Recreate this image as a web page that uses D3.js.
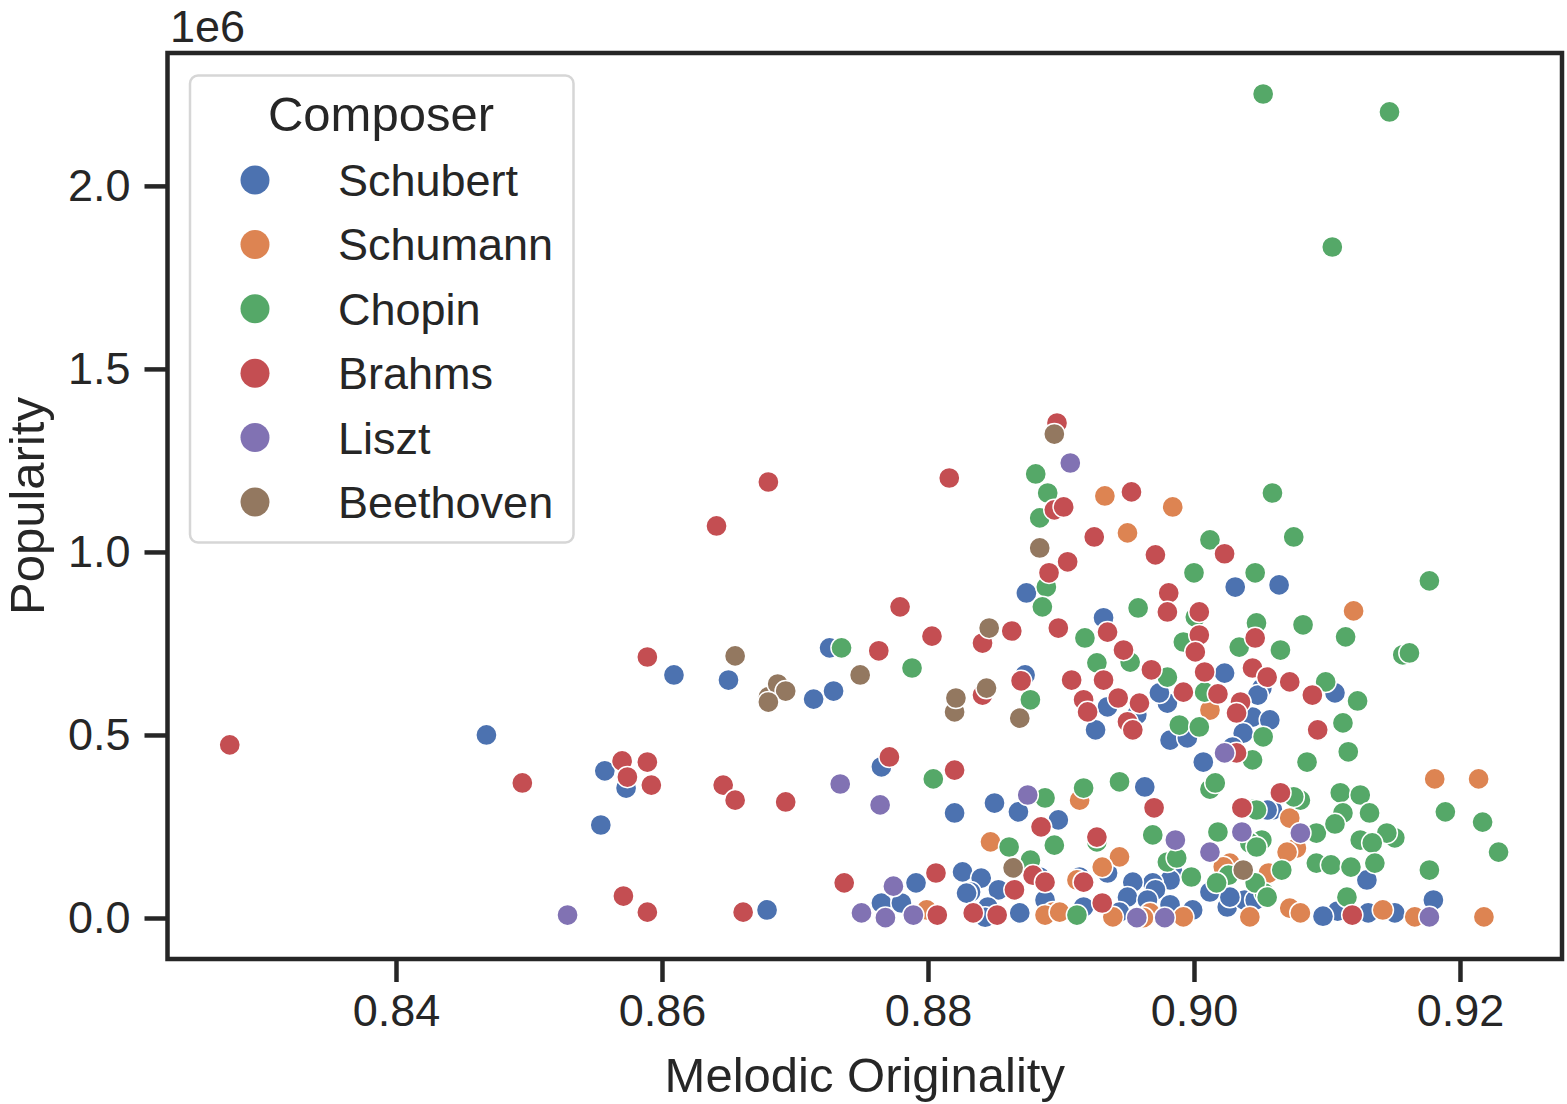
<!DOCTYPE html>
<html>
<head>
<meta charset="utf-8">
<script src="https://cdn.jsdelivr.net/npm/d3@7"></script>
<style>
  html, body { margin: 0; padding: 0; background: #fff; }
  svg { display: block; }
  text { font-family: "Liberation Sans", Arial, "DejaVu Sans", sans-serif; fill: #262626; }
</style>
</head>
<body>
<svg id="chart" width="1567" height="1104"></svg>
<script>
// ---------------- data (x = melodic originality, y = popularity in millions) ----------------
const composers = ["Schubert", "Schumann", "Chopin", "Brahms", "Liszt", "Beethoven"];
const colors = ["#4C72B0", "#DD8452", "#55A868", "#C44E52", "#8172B3", "#937860"];
const xTicks = [0.84, 0.86, 0.88, 0.90, 0.92];
const yTicks = [0.0, 0.5, 1.0, 1.5, 2.0];

const schubert = [[0.8468,0.500],[0.8557,0.402],[0.8573,0.355],[0.8554,0.254],[0.8609,0.664],[0.8650,0.650],[0.8679,0.022],[0.8714,0.598],[0.8726,0.738],[0.8729,0.620],[0.8765,0.413],[0.8765,0.041],[0.8780,0.041],[0.8791,0.096],[0.8820,0.287],[0.8873,0.664],[0.8850,0.314],[0.8868,0.290],[0.8898,0.268],[0.8826,0.126],[0.8840,0.109],[0.8832,0.071],[0.8829,0.068],[0.8853,0.077],[0.8884,0.112],[0.8845,0.030],[0.8869,0.014],[0.8888,0.049],[0.8843,0.002],[0.8914,0.112],
[0.8963,0.358],[0.9059,0.295],[0.8984,0.126],[0.9012,0.071],[0.8982,0.104],[0.8969,0.096],[0.8971,0.077],[0.8954,0.098],[0.8935,0.123],[0.8950,0.057],[0.8965,0.049],[0.8982,0.036],[0.8999,0.022],[0.9025,0.030],[0.9038,0.049],[0.8917,0.030],[0.8944,0.016],[0.9027,0.057],
[0.8874,0.888],[0.9031,0.904],[0.9064,0.910],[0.8932,0.820],[0.9023,0.669],[0.8935,0.577],[0.8957,0.555],[0.8926,0.514],[0.8980,0.587],[0.8974,0.615],[0.9044,0.549],[0.9057,0.541],[0.9051,0.628],[0.8982,0.486],[0.8995,0.492],[0.9037,0.505],[0.9029,0.467],[0.9007,0.426],[0.9106,0.615],[0.9048,0.609],
[0.9180,0.049],[0.9151,0.014],[0.9131,0.014],[0.9108,0.019],[0.9097,0.005],[0.9130,0.104],[0.9055,0.295],[0.9046,0.049]];

const schumann = [[0.8799,0.022],[0.8847,0.208],[0.8894,0.016],[0.8888,0.008],[0.8933,1.153],[0.8984,1.123],[0.8950,1.052],[0.9120,0.839],[0.9012,0.568],[0.8914,0.322],[0.8944,0.167],[0.8931,0.139],[0.9072,0.273],[0.9077,0.191],[0.9070,0.180],[0.9027,0.150],[0.9022,0.140],[0.8912,0.104],[0.9072,0.027],[0.8899,0.016],[0.8967,0.014],[0.8962,0.001],[0.8939,0.003],[0.8992,0.003],[0.9042,0.003],[0.9181,0.380],[0.9214,0.380],[0.9218,0.003],[0.9166,0.003],[0.9142,0.022],[0.9080,0.014],[0.9056,0.123]];

const chopin = [[0.9052,2.251],[0.9147,2.202],[0.9104,1.833],[0.8881,1.213],[0.8890,1.161],[0.8884,1.093],[0.9012,1.033],[0.9059,1.161],[0.9075,1.041],[0.9000,0.943],[0.9046,0.943],[0.9177,0.921],[0.8889,0.904],[0.8886,0.850],[0.8958,0.847],[0.8918,0.765],[0.9001,0.822],[0.8992,0.754],[0.9047,0.806],[0.9082,0.801],[0.9034,0.740],[0.9065,0.732],[0.9114,0.768],[0.9157,0.719],[0.9162,0.724],[0.8927,0.697],[0.8952,0.699],[0.8980,0.658],[0.9008,0.617],[0.8989,0.527],[0.9004,0.522],[0.9052,0.495],[0.9044,0.432],[0.9085,0.426],[0.9099,0.645],[0.9123,0.593],[0.9112,0.533],[0.9116,0.454],
[0.8788,0.683],[0.8804,0.380],[0.8877,0.596],[0.8888,0.328],[0.8895,0.199],[0.8861,0.194],[0.8877,0.158],[0.8735,0.738],[0.8912,0.008],
[0.8917,0.355],[0.8944,0.372],[0.9012,0.352],[0.9016,0.369],[0.8927,0.208],[0.8969,0.227],[0.9018,0.235],[0.9046,0.298],[0.9051,0.213],[0.9042,0.205],[0.9047,0.194],[0.9066,0.131],[0.8980,0.153],[0.8987,0.164],[0.8998,0.112],[0.9026,0.117],[0.9017,0.096],[0.9053,0.068],[0.9046,0.096],
[0.9189,0.290],[0.9217,0.262],[0.9229,0.180],[0.9177,0.131],[0.9115,0.057],[0.9110,0.342],[0.9125,0.336],[0.9080,0.322],[0.9075,0.331],[0.9047,0.295],[0.9112,0.287],[0.9132,0.287],[0.9092,0.232],[0.9106,0.257],[0.9151,0.219],[0.9145,0.232],[0.9125,0.213],[0.9134,0.205],[0.9092,0.150],[0.9103,0.145],[0.9118,0.139],[0.9136,0.150],[0.9055,0.057]];

const brahms = [[0.8275,0.473],[0.8495,0.369],[0.8570,0.429],[0.8574,0.385],[0.8589,0.426],[0.8592,0.363],[0.8589,0.713],[0.8641,1.071],[0.8680,1.191],[0.8646,0.363],[0.8655,0.322],[0.8693,0.317],[0.8571,0.060],[0.8589,0.016],[0.8661,0.016],[0.8737,0.096],[0.8763,0.730],[0.8771,0.440],[0.8779,0.850],[0.8803,0.770],[0.8816,1.202],[0.8820,0.404],[0.8806,0.123],[0.8807,0.008],
[0.8841,0.751],[0.8863,0.784],[0.8841,0.609],[0.8870,0.648],[0.8885,0.249],[0.8865,0.077],[0.8879,0.117],[0.8888,0.098],[0.8834,0.014],[0.8852,0.008],
[0.8897,1.352],[0.8895,1.115],[0.8902,1.123],[0.8953,1.164],[0.8925,1.041],[0.8905,0.973],[0.8971,0.992],[0.9023,0.995],[0.8891,0.943],[0.8898,0.792],[0.8981,0.888],[0.8980,0.836],[0.8935,0.781],[0.9004,0.836],[0.9004,0.773],[0.9001,0.727],[0.9046,0.765],[0.8947,0.732],[0.8968,0.678],[0.9008,0.672],[0.9044,0.683],[0.9055,0.658],[0.9072,0.645],[0.8908,0.650],[0.8932,0.650],[0.8917,0.596],[0.8920,0.563],[0.8943,0.601],[0.8959,0.587],[0.8950,0.536],[0.8954,0.514],[0.8992,0.617],[0.9018,0.612],[0.9035,0.590],[0.9032,0.560],[0.9032,0.451],[0.9089,0.609],[0.9093,0.514],
[0.8970,0.301],[0.8927,0.221],[0.9036,0.301],[0.9065,0.342],[0.8917,0.098],[0.8931,0.041],[0.9119,0.008]];

const liszt = [[0.8529,0.008],[0.8734,0.366],[0.8764,0.309],[0.8750,0.014],[0.8774,0.087],[0.8768,0.001],[0.8789,0.008],[0.8875,0.336],[0.8907,1.243],[0.8986,0.213],[0.9012,0.180],[0.9036,0.235],[0.9023,0.451],[0.8978,0.001],[0.8957,0.001],[0.9177,0.003],[0.9080,0.232]];

const beethoven = [[0.8655,0.716],[0.8680,0.604],[0.8687,0.639],[0.8693,0.620],[0.8680,0.590],[0.8749,0.664],[0.8820,0.563],[0.8821,0.601],[0.8846,0.792],[0.8844,0.628],[0.8869,0.546],[0.8864,0.137],[0.8895,1.322],[0.8884,1.011],[0.9037,0.131]];

const seriesData = [schubert, schumann, chopin, brahms, liszt, beethoven];

// ---------------- layout ----------------
const plot = { left: 167.5, right: 1562, top: 53, bottom: 959 };
const svg = d3.select("#chart");

const x = d3.scaleLinear().domain([0.82282, 0.92767]).range([plot.left, plot.right]);
const y = d3.scaleLinear().domain([-0.112, 2.363]).range([plot.bottom, plot.top]);

const ink = "#262626";

svg.append("clipPath").attr("id", "clip").append("rect")
  .attr("x", plot.left).attr("y", plot.top)
  .attr("width", plot.right - plot.left).attr("height", plot.bottom - plot.top);

const pts = svg.append("g").attr("clip-path", "url(#clip)");
seriesData.forEach((arr, i) => {
  pts.selectAll(null).data(arr).enter().append("circle")
    .attr("cx", d => x(d[0])).attr("cy", d => y(d[1]))
    .attr("r", 10.6)
    .attr("fill", colors[i])
    .attr("stroke", "#fff").attr("stroke-width", 1.5);
});

// axes
const xAxis = d3.axisBottom(x).tickValues(xTicks).tickFormat(d3.format(".2f"))
  .tickSize(23).tickSizeOuter(0).tickPadding(12);
const yAxis = d3.axisLeft(y).tickValues(yTicks).tickFormat(d3.format(".1f"))
  .tickSize(23).tickSizeOuter(0).tickPadding(14);

const gx = svg.append("g").attr("transform", `translate(0,${plot.bottom})`).call(xAxis);
const gy = svg.append("g").attr("transform", `translate(${plot.left},0)`).call(yAxis);
[gx, gy].forEach(g => {
  g.select(".domain").remove();
  g.selectAll(".tick line").attr("stroke", ink).attr("stroke-width", 4.5);
  g.selectAll(".tick text").style("font-size", "45px").attr("fill", ink);
});
gx.selectAll(".tick text").attr("dy", "0.71em");

// frame
svg.append("rect")
  .attr("x", plot.left).attr("y", plot.top)
  .attr("width", plot.right - plot.left).attr("height", plot.bottom - plot.top)
  .attr("fill", "none").attr("stroke", ink).attr("stroke-width", 4.5);

// offset text
svg.append("text").attr("x", 170).attr("y", 42).style("font-size", "45px").text("1e6");

// axis labels
svg.append("text").attr("x", (plot.left + plot.right) / 2).attr("y", 1092)
  .attr("text-anchor", "middle").style("font-size", "49px").text("Melodic Originality");
svg.append("text").attr("transform", `translate(44,${(plot.top + plot.bottom) / 2}) rotate(-90)`)
  .attr("text-anchor", "middle").style("font-size", "49px").text("Popularity");

// legend
const lg = svg.append("g");
lg.append("rect").attr("x", 190).attr("y", 75.5).attr("width", 383.5).attr("height", 467)
  .attr("rx", 8).attr("fill", "#fff").attr("fill-opacity", 0.8)
  .attr("stroke", "#d6d6d6").attr("stroke-width", 2.5);
lg.append("text").attr("x", 381).attr("y", 131).attr("text-anchor", "middle")
  .style("font-size", "49px").text("Composer");
composers.forEach((c, i) => {
  const cy = 180 + i * 64.4;
  lg.append("circle").attr("cx", 255).attr("cy", cy).attr("r", 14.5).attr("fill", colors[i]);
  lg.append("text").attr("x", 338).attr("y", cy + 16).style("font-size", "45px").text(c);
});
</script>
</body>
</html>
